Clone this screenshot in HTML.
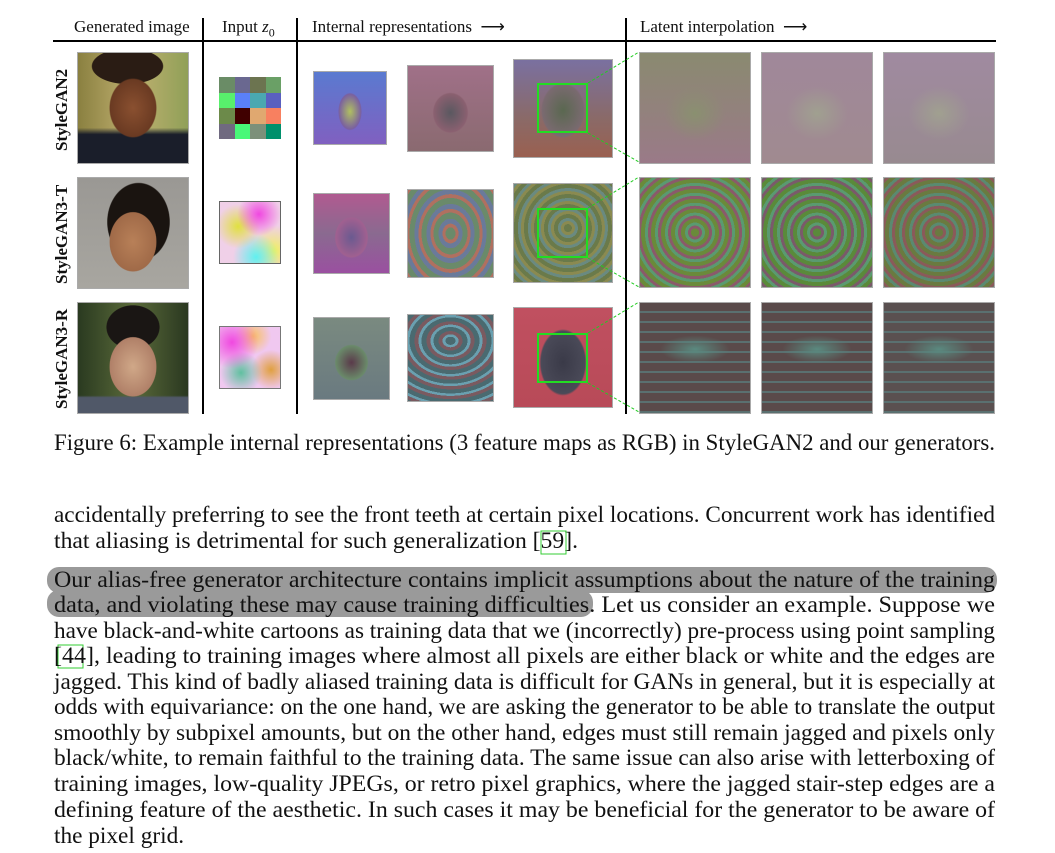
<!DOCTYPE html>
<html><head><meta charset="utf-8">
<style>
body{margin:0;width:1055px;height:853px;background:#fff;position:relative;overflow:hidden;font-family:"Liberation Serif",serif;color:#111}
.a{position:absolute}
.h{font-size:17px;top:17px;white-space:nowrap}
.img{position:absolute;border:1px solid #aaa;box-sizing:border-box}
.vl{position:absolute;width:1.5px;background:#000}
.rl{position:absolute;font-weight:bold;font-size:17px;transform:rotate(-90deg);transform-origin:left top;white-space:nowrap;line-height:17px}
.zb{position:absolute;width:51px;height:50px;border:2px solid #2d2;box-sizing:border-box}
svg text{font-family:"Liberation Serif",serif;font-size:23.3px;fill:#111}
</style></head><body>
<div class="a h" style="left:74px">Generated image</div>
<div class="a h" style="left:222px">Input <i>z</i><sub style="font-size:12px">0</sub></div>
<div class="a h" style="left:312px">Internal representations &nbsp;⟶</div>
<div class="a h" style="left:640px">Latent interpolation &nbsp;⟶</div>
<div class="a" style="left:53px;top:40px;width:943px;height:1.5px;background:#000"></div>
<div class="vl" style="left:202px;top:18px;height:396px"></div>
<div class="vl" style="left:296px;top:18px;height:396px"></div>
<div class="vl" style="left:625px;top:18px;height:396px"></div>

<div class="rl" style="left:53px;top:151px">StyleGAN2</div>
<div class="rl" style="left:53px;top:284px">StyleGAN3-T</div>
<div class="rl" style="left:53px;top:409px">StyleGAN3-R</div>

<!-- Row 1 -->
<div class="img" style="left:77px;top:52px;width:112px;height:112px;background:radial-gradient(ellipse 32% 40% at 50% 50%,#8a5030 0%,#6a3a22 65%,transparent 68%),radial-gradient(ellipse 40% 20% at 45% 12%,#2a1c14 80%,transparent 82%),linear-gradient(to bottom,transparent 68%,#1a1e2a 74%),linear-gradient(90deg,#8a8040,#c0b070 50%,#90a058)"></div>
<div class="img" style="left:219px;top:77px;width:62px;height:62px;display:grid;grid-template-columns:repeat(4,1fr);border:none">
<div style="background:#6a8c66"></div><div style="background:#6a6890"></div><div style="background:#6c7450"></div><div style="background:#6aa066"></div>
<div style="background:#58f06c"></div><div style="background:#5a80f8"></div><div style="background:#4aa8b0"></div><div style="background:#5a60c0"></div>
<div style="background:#6c8a4a"></div><div style="background:#400000"></div><div style="background:#e0a870"></div><div style="background:#f88060"></div>
<div style="background:#706a80"></div><div style="background:#48f878"></div><div style="background:#7c907a"></div><div style="background:#00906c"></div>
</div>
<div class="img" style="left:313px;top:71px;width:74px;height:74px;background:radial-gradient(ellipse 22% 35% at 50% 55%,#b0c060,#7a60a0 70%,transparent 75%),linear-gradient(#5a7ad0,#8060c0)"></div>
<div class="img" style="left:407px;top:65px;width:87px;height:87px;background:radial-gradient(ellipse 28% 32% at 50% 55%,#5a5860,#8a6070 70%,transparent 75%),linear-gradient(#a07088,#8a6a70)"></div>
<div class="img" style="left:513px;top:59px;width:100px;height:99px;background:radial-gradient(ellipse 30% 38% at 50% 52%,#5a6850,#7a6a70 70%,transparent 75%),linear-gradient(#7a70a0,#8a6a68 60%,#9a6050)"></div>
<div class="zb" style="left:537px;top:83px"></div>
<div class="img" style="left:639px;top:52px;width:112px;height:112px;background:radial-gradient(ellipse 40% 35% at 50% 55%,#8a9070,transparent 70%),linear-gradient(#8a8a70,#9a7a88)"></div>
<div class="img" style="left:761px;top:52px;width:112px;height:112px;background:radial-gradient(ellipse 40% 35% at 50% 55%,#a0a090,transparent 70%),linear-gradient(#a0889a,#a08a90)"></div>
<div class="img" style="left:883px;top:52px;width:112px;height:112px;background:radial-gradient(ellipse 40% 35% at 50% 55%,#a0a090,transparent 70%),linear-gradient(#a08aa0,#988a90)"></div>

<!-- Row 2 -->
<div class="img" style="left:77px;top:177px;width:112px;height:112px;background:radial-gradient(ellipse 30% 38% at 50% 58%,#b88058,#a06a48 70%,transparent 72%),radial-gradient(ellipse 40% 50% at 55% 40%,#1a1410 70%,transparent 72%),linear-gradient(#9a9894,#a8a6a0)"></div>
<div class="img" style="left:219px;top:201px;width:62px;height:63px;border:1px solid #666;background:radial-gradient(circle at 65% 20%,#f048e0,transparent 35%),radial-gradient(circle at 30% 40%,#e0e040,transparent 40%),radial-gradient(circle at 60% 90%,#60f0f0,transparent 35%),radial-gradient(circle at 90% 80%,#f0f060,transparent 35%),#f0d0e8"></div>
<div class="img" style="left:313px;top:193px;width:77px;height:81px;background:radial-gradient(ellipse 30% 35% at 50% 55%,#6a5a90,#a06090 70%,transparent 75%),linear-gradient(#b05a90,#8a6a90 50%,#9a50a0)"></div>
<div class="img" style="left:407px;top:189px;width:87px;height:89px;background:repeating-radial-gradient(ellipse 50% 60% at 50% 50%,#6a8a6a 0 5px,#b07060 5px 8px,#6a7a9a 8px 12px)"></div>
<div class="img" style="left:513px;top:183px;width:100px;height:100px;background:repeating-radial-gradient(ellipse at 55% 45%,#6a7a4a 0 4px,#8a8a50 4px 7px,#6a8a80 7px 10px)"></div>
<div class="zb" style="left:537px;top:208px"></div>
<div class="img" style="left:639px;top:177px;width:112px;height:111px;background:repeating-radial-gradient(ellipse at 50% 50%,#6a8a3a 0 4px,#8a5a6a 4px 7px,#5a9a70 7px 10px)"></div>
<div class="img" style="left:761px;top:177px;width:112px;height:111px;background:repeating-radial-gradient(ellipse at 50% 50%,#5a8a3a 0 4px,#7a5a6a 4px 7px,#5a9a70 7px 10px)"></div>
<div class="img" style="left:883px;top:177px;width:112px;height:111px;background:repeating-radial-gradient(ellipse at 50% 50%,#6a7a40 0 4px,#8a5a5a 4px 7px,#5a8a70 7px 10px)"></div>

<!-- Row 3 -->
<div class="img" style="left:77px;top:302px;width:112px;height:112px;background:radial-gradient(ellipse 30% 38% at 50% 58%,#d0a888,#b08068 70%,transparent 72%),radial-gradient(ellipse 34% 28% at 50% 22%,#1a1614 70%,transparent 72%),linear-gradient(to bottom,transparent 84%,#505868 86%),linear-gradient(90deg,#2a3a20,#5a6a3a 50%,#2a3820)"></div>
<div class="img" style="left:219px;top:326px;width:62px;height:63px;border:1px solid #777;background:radial-gradient(circle at 20% 25%,#f048e0,transparent 40%),radial-gradient(circle at 55% 15%,#f8c060,transparent 30%),radial-gradient(circle at 35% 75%,#60c0a0,transparent 35%),radial-gradient(circle at 85% 70%,#e0a040,transparent 30%),#f0c8f0"></div>
<div class="img" style="left:313px;top:317px;width:77px;height:83px;background:radial-gradient(ellipse 30% 30% at 50% 55%,#5a3a4a,#6a8a6a 70%,transparent 75%),linear-gradient(#7a8a80,#6a7a80)"></div>
<div class="img" style="left:407px;top:314px;width:87px;height:88px;background:repeating-radial-gradient(ellipse 50% 40% at 50% 30%,#4a6a70 0 5px,#6aa0b0 5px 8px,#7a5a60 8px 12px)"></div>
<div class="img" style="left:513px;top:307px;width:100px;height:101px;background:radial-gradient(ellipse 32% 45% at 50% 55%,#3a3a48,#4a4a58 70%,transparent 75%),linear-gradient(#c05060,#b84a58)"></div>
<div class="zb" style="left:537px;top:333px"></div>
<div class="img" style="left:639px;top:302px;width:112px;height:112px;background:radial-gradient(ellipse 45% 18% at 50% 42%,#5a8a80,transparent 70%),repeating-linear-gradient(#5a4a4a 0 8px,#5a7070 8px 10px)"></div>
<div class="img" style="left:761px;top:302px;width:112px;height:112px;background:radial-gradient(ellipse 45% 18% at 50% 42%,#5a8a80,transparent 70%),repeating-linear-gradient(#5a4a4a 0 8px,#5a7070 8px 10px)"></div>
<div class="img" style="left:883px;top:302px;width:112px;height:112px;background:radial-gradient(ellipse 45% 18% at 50% 42%,#5a8a80,transparent 70%),repeating-linear-gradient(#5a5050 0 8px,#5a7070 8px 10px)"></div>

<svg class="a" style="left:0;top:0" width="1055" height="853">
<g stroke="#2c2" stroke-width="1" stroke-dasharray="3,2">
<line x1="588" y1="83" x2="639" y2="52"/><line x1="588" y1="133" x2="639" y2="162"/>
<line x1="588" y1="208" x2="639" y2="177"/><line x1="588" y1="258" x2="639" y2="287"/>
<line x1="588" y1="333" x2="639" y2="302"/><line x1="588" y1="383" x2="639" y2="412"/>
</g>
<text x="54" y="450" textLength="941" lengthAdjust="spacingAndGlyphs">Figure 6: Example internal representations (3 feature maps as RGB) in StyleGAN2 and our generators.</text>
<g>
<text x="54" y="522" textLength="941" lengthAdjust="spacingAndGlyphs">accidentally preferring to see the front teeth at certain pixel locations. Concurrent work has identified</text>
<text x="54" y="548" textLength="524" lengthAdjust="spacingAndGlyphs">that aliasing is detrimental for such generalization [59].</text>
<rect x="541" y="531" width="25" height="23" fill="none" stroke="#3c3" stroke-width="1"/>
</g>
<g>
<rect x="47" y="567" width="950" height="26" rx="12" fill="#9a9a9a"/>
<rect x="47" y="590" width="546" height="27" rx="12" fill="#9a9a9a"/>
<rect x="58" y="645" width="25" height="23" fill="none" stroke="#3c3" stroke-width="1"/>
<text x="54" y="587" textLength="941" lengthAdjust="spacingAndGlyphs">Our alias-free generator architecture contains implicit assumptions about the nature of the training</text>
<text x="54" y="612" textLength="941" lengthAdjust="spacingAndGlyphs">data, and violating these may cause training difficulties. Let us consider an example. Suppose we</text>
<text x="54" y="638" textLength="941" lengthAdjust="spacingAndGlyphs">have black-and-white cartoons as training data that we (incorrectly) pre-process using point sampling</text>
<text x="54" y="663" textLength="941" lengthAdjust="spacingAndGlyphs">[44], leading to training images where almost all pixels are either black or white and the edges are</text>
<text x="54" y="689" textLength="941" lengthAdjust="spacingAndGlyphs">jagged. This kind of badly aliased training data is difficult for GANs in general, but it is especially at</text>
<text x="54" y="714" textLength="941" lengthAdjust="spacingAndGlyphs">odds with equivariance: on the one hand, we are asking the generator to be able to translate the output</text>
<text x="54" y="740" textLength="941" lengthAdjust="spacingAndGlyphs">smoothly by subpixel amounts, but on the other hand, edges must still remain jagged and pixels only</text>
<text x="54" y="765" textLength="941" lengthAdjust="spacingAndGlyphs">black/white, to remain faithful to the training data. The same issue can also arise with letterboxing of</text>
<text x="54" y="791" textLength="941" lengthAdjust="spacingAndGlyphs">training images, low-quality JPEGs, or retro pixel graphics, where the jagged stair-step edges are a</text>
<text x="54" y="817" textLength="941" lengthAdjust="spacingAndGlyphs">defining feature of the aesthetic. In such cases it may be beneficial for the generator to be aware of</text>
<text x="54" y="843">the pixel grid.</text>
</g>
</svg>
</body></html>
